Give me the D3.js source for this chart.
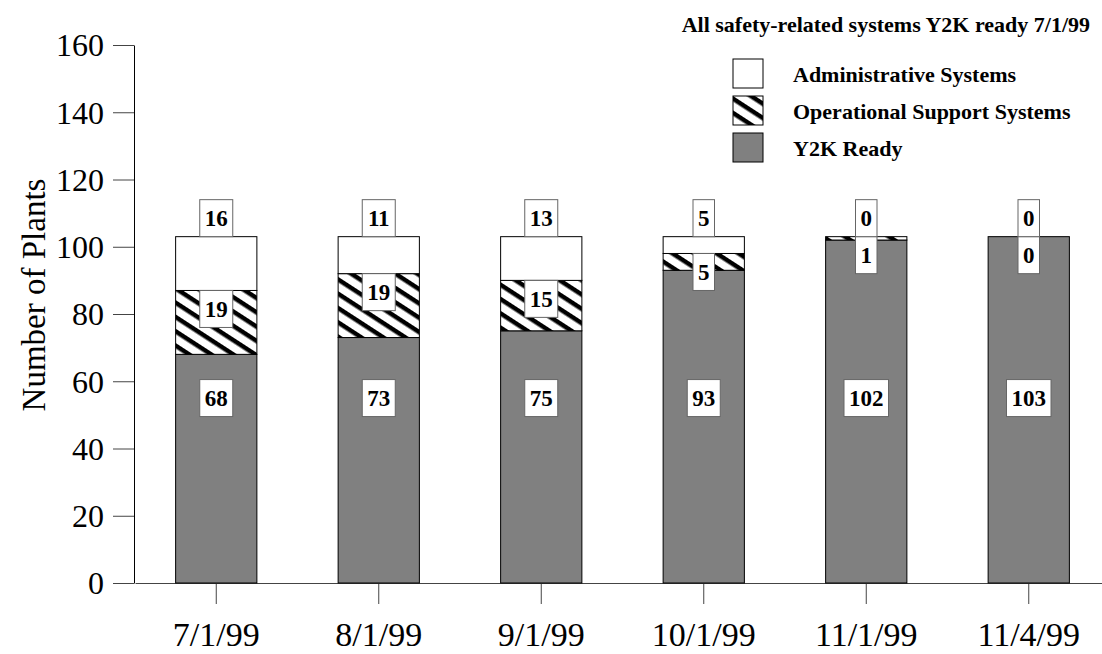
<!DOCTYPE html>
<html>
<head>
<meta charset="utf-8">
<script src="https://cdn.jsdelivr.net/npm/d3@7"></script>
<style>
  body { margin: 0; background: #fff; }
  svg { display: block; font-family: "Liberation Serif", "Times New Roman", serif; }
</style>
</head>
<body>
<div id="chart"></div>
<script>
// Data
const dates = ['7/1/99', '8/1/99', '9/1/99', '10/1/99', '11/1/99', '11/4/99']
const y2kReady = [68, 73, 75, 93, 102, 103]
const operational = [19, 19, 15, 5, 1, 0]
const administrative = [16, 11, 13, 5, 0, 0]
const yTicks = [0, 20, 40, 60, 80, 100, 120, 140, 160]
const seriesNames = ['Administrative Systems', 'Operational Support Systems', 'Y2K Ready']
const noteText = 'All safety-related systems Y2K ready 7/1/99'

// Constants
const width = 1102
const height = 654
const margin = { top: 45, right: -8, bottom: 71, left: 135 }
const serif = '"Liberation Serif", "Times New Roman", serif'
const readyLabelLevel = 55

const data = dates.map((d, i) => ({
    date: d,
    ready: y2kReady[i],
    ops: operational[i],
    admin: administrative[i]
}))

const svg = d3.select('#chart')
    .append('svg')
    .attr('width', width)
    .attr('height', height)

// Hatch pattern for operational support systems
const defs = svg.append('defs')
const hatch = defs.append('pattern')
    .attr('id', 'hatch')
    .attr('patternUnits', 'userSpaceOnUse')
    .attr('width', 12)
    .attr('height', 12)
    .attr('patternTransform', 'rotate(33)')
hatch.append('rect').attr('width', 12).attr('height', 12).attr('fill', '#fff')
hatch.append('rect').attr('width', 12).attr('height', 4.5).attr('fill', '#000')

// Scales
const x = d3.scaleBand()
    .domain(dates)
    .range([margin.left, width - margin.right])
    .paddingInner(0.5)
    .paddingOuter(0.25)

const y = d3.scaleLinear()
    .domain([0, 160])
    .range([height - margin.bottom, margin.top])

// Axes
const yAxis = d3.axisLeft(y)
    .tickValues(yTicks)
    .tickSizeInner(21)
    .tickSizeOuter(0)
    .tickPadding(9)

const yAxisGroup = svg.append('g')
    .attr('transform', `translate(${margin.left - 1}, 0)`)
    .call(yAxis)
yAxisGroup.attr('font-family', serif)
yAxisGroup.selectAll('text')
    .style('font-size', '32px')
    .attr('fill', '#000')
    .attr('dy', '0.34em')
yAxisGroup.selectAll('.tick line').attr('stroke', '#444')
yAxisGroup.select('.domain').attr('stroke', '#000')

const xAxis = d3.axisBottom(x)
    .tickSizeInner(21)
    .tickSizeOuter(0)
    .tickPadding(18)

const xAxisGroup = svg.append('g')
    .attr('transform', `translate(0, ${y(0)})`)
    .call(xAxis)
xAxisGroup.attr('font-family', serif)
xAxisGroup.selectAll('text')
    .style('font-size', '34px')
    .attr('fill', '#000')
xAxisGroup.selectAll('.tick line').attr('stroke', '#444')
xAxisGroup.select('.domain').attr('stroke', '#444')

// Y axis title
svg.append('text')
    .attr('transform', `translate(45, 295) rotate(-90)`)
    .attr('text-anchor', 'middle')
    .style('font-size', '33px')
    .text('Number of Plants')

// Bars
const bars = svg.append('g')
const bw = x.bandwidth()

bars.selectAll('.ready')
    .data(data)
    .enter()
    .append('rect')
    .attr('x', d => x(d.date))
    .attr('y', d => y(d.ready))
    .attr('width', bw)
    .attr('height', d => y(0) - y(d.ready))
    .attr('fill', '#808080')
    .attr('stroke', '#000')
    .attr('stroke-width', 1)

bars.selectAll('.ops')
    .data(data)
    .enter()
    .append('rect')
    .attr('x', d => x(d.date))
    .attr('y', d => y(d.ready + d.ops))
    .attr('width', bw)
    .attr('height', d => y(d.ready) - y(d.ready + d.ops))
    .attr('fill', 'url(#hatch)')
    .attr('stroke', '#000')
    .attr('stroke-width', 1)

bars.selectAll('.admin')
    .data(data)
    .enter()
    .append('rect')
    .attr('x', d => x(d.date))
    .attr('y', d => y(d.ready + d.ops + d.admin))
    .attr('width', bw)
    .attr('height', d => y(d.ready + d.ops) - y(d.ready + d.ops + d.admin))
    .attr('fill', '#fff')
    .attr('stroke', '#000')
    .attr('stroke-width', 1)

// Value label boxes
const boxH = 37
const labels = svg.append('g')

function addLabel(cx, top, value) {
    const w = String(value).length * 11.5 + 10
    labels.append('rect')
        .attr('x', cx - w / 2)
        .attr('y', top)
        .attr('width', w)
        .attr('height', boxH)
        .attr('fill', '#fff')
        .attr('stroke', '#666')
        .attr('stroke-width', 1)
    labels.append('text')
        .attr('x', cx)
        .attr('y', top + boxH / 2)
        .attr('dy', '0.35em')
        .attr('text-anchor', 'middle')
        .style('font-size', '23px')
        .style('font-weight', 'bold')
        .text(value)
}

data.forEach(d => {
    const cx = x(d.date) + bw / 2
    const total = d.ready + d.ops + d.admin
    addLabel(cx, y(readyLabelLevel) - boxH / 2, d.ready)
    addLabel(cx, y(d.ready + d.ops), d.ops)
    addLabel(cx, y(total) - boxH, d.admin)
})

// Note
svg.append('text')
    .attr('x', 1090)
    .attr('y', 32)
    .attr('text-anchor', 'end')
    .style('font-size', '22px')
    .style('font-weight', 'bold')
    .text(noteText)

// Legend
const legendFills = ['#fff', 'url(#hatch)', '#808080']
const legend = svg.append('g')
    .attr('transform', 'translate(733, 59)')
seriesNames.forEach((name, i) => {
    const g = legend.append('g').attr('transform', `translate(0, ${i * 37})`)
    g.append('rect')
        .attr('width', 30)
        .attr('height', 29)
        .attr('fill', legendFills[i])
        .attr('stroke', '#000')
        .attr('stroke-width', 1)
    g.append('text')
        .attr('x', 60)
        .attr('y', 23)
        .style('font-size', '22px')
        .style('font-weight', 'bold')
        .text(name)
})
</script>
</body>
</html>
